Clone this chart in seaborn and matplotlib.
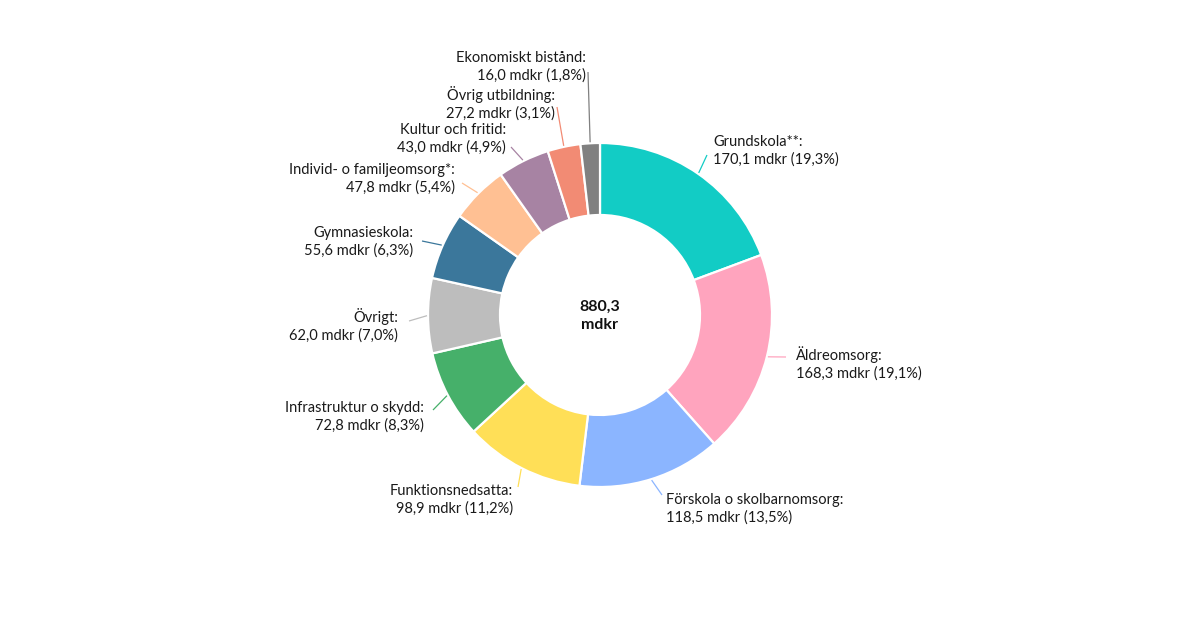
import numpy as np
import matplotlib
matplotlib.use("Agg")
import matplotlib.pyplot as plt
import seaborn as sns

categories = ["Grundskola**", "Äldreomsorg", "Förskola o skolbarnomsorg", "Funktionsnedsatta",
              "Infrastruktur o skydd", "Övrigt", "Gymnasieskola", "Individ- o familjeomsorg*",
              "Kultur och fritid", "Övrig utbildning", "Ekonomiskt bistånd"]
values = [170.1, 168.3, 118.5, 98.9, 72.8, 62.0, 55.6, 47.8, 43.0, 27.2, 16.0]
value_labels = ["170,1", "168,3", "118,5", "98,9", "72,8", "62,0", "55,6", "47,8", "43,0", "27,2", "16,0"]
pct_labels = ["19,3", "19,1", "13,5", "11,2", "8,3", "7,0", "6,3", "5,4", "4,9", "3,1", "1,8"]
total_label = "880,3\nmdkr"

colors = ["#12CCC5", "#FFA4BE", "#8BB5FF", "#FFDF57", "#46B06A", "#BDBDBD",
          "#3B779B", "#FFC093", "#A783A3", "#F28B74", "#808080"]

# layout (pixel coords): label anchor (x, y of two-line block centre), alignment, connector end
layout = [
    (713, 151, "left", (707, 155)),
    (796, 363, "left", (786, 357)),
    (666, 509, "left", (662, 495)),
    (513, 500, "right", (518, 487)),
    (424, 417, "right", (433, 410)),
    (398, 325, "right", (409, 321)),
    (413, 242, "right", (422, 241)),
    (455, 179, "right", (462, 183)),
    (506, 139, "right", (511, 147)),
    (555, 103, "right", (557, 107)),
    (586, 67, "right", (588, 72)),
]

sns.set_theme(style="white")
plt.rcParams["font.family"] = ["Lato", "DejaVu Sans"]

W, H = 1200, 630
fig = plt.figure(figsize=(12, 6.3), dpi=100)
ax = fig.add_axes([0, 0, 1, 1])

cx, cy = 600, H - 315
R, width = 172, 72
wedges, _ = ax.pie(values, colors=colors, startangle=90, counterclock=False,
                   radius=R, center=(cx, cy), frame=True,
                   wedgeprops=dict(width=width, edgecolor="white", linewidth=1.6))
ax.set_xlim(0, W)
ax.set_ylim(0, H)
ax.set_aspect("equal")
ax.axis("off")

total = sum(values)
cum = 0
for i, v in enumerate(values):
    mid = (cum + v / 2) / total * 2 * np.pi
    cum += v
    sx = cx + (R + 1) * np.sin(mid)
    sy = cy + (R + 1) * np.cos(mid)
    tx, ty, ha, (ex, ey) = layout[i]
    ax.plot([sx, ex], [sy, H - ey], color=colors[i], lw=0.9, solid_capstyle="butt")
    txt = f"{categories[i]}:\n{value_labels[i]} mdkr ({pct_labels[i]}%)"
    ax.text(tx, H - ty, txt, ha=ha, va="center", fontsize=10.5, color="#1a1a1a",
            linespacing=1.3, multialignment=ha)

ax.text(cx, cy - 1, total_label, ha="center", va="center", fontsize=11.5,
        fontweight="bold", color="#111111", linespacing=1.35)

fig.savefig("out.png", dpi=100, facecolor="white")
